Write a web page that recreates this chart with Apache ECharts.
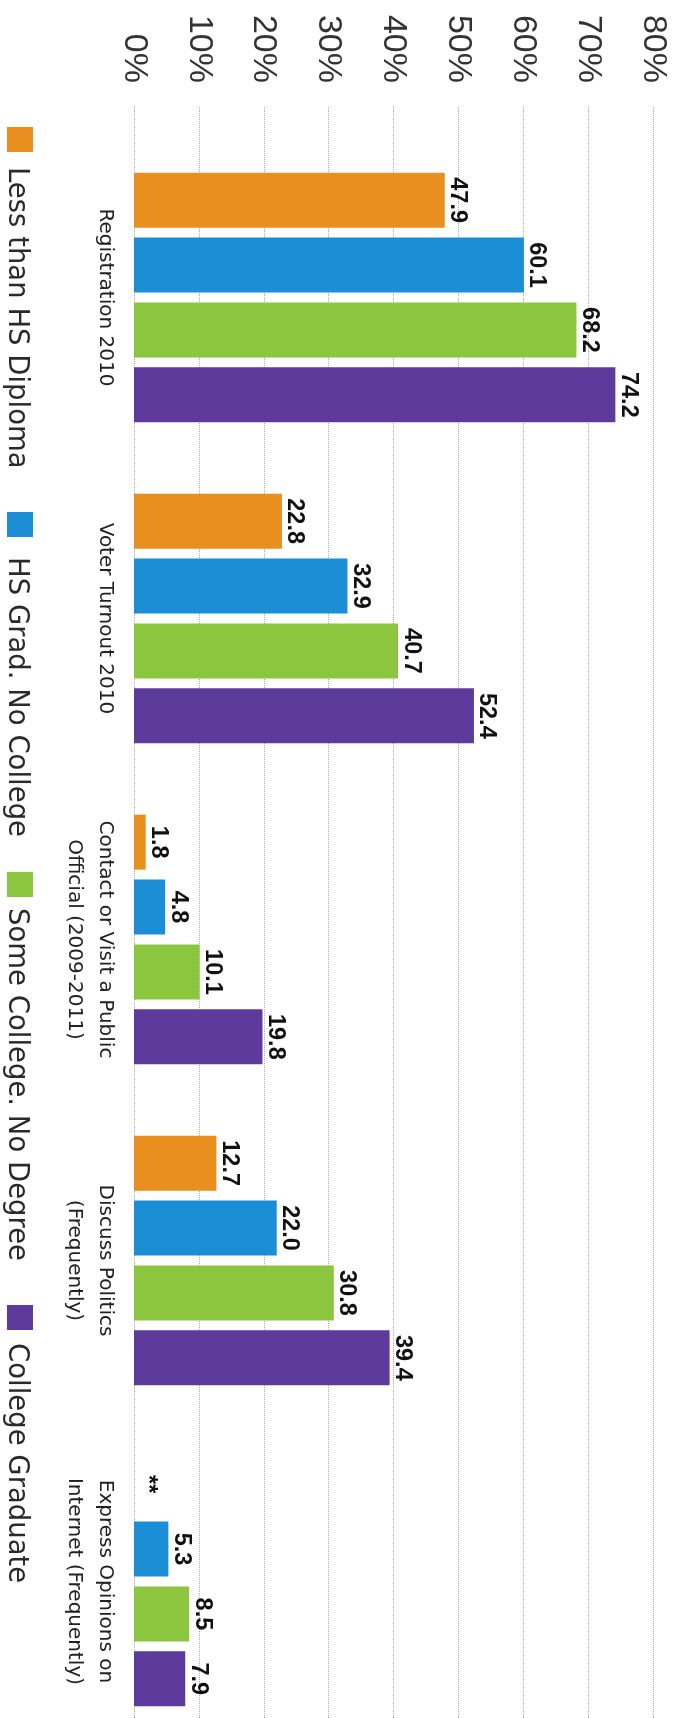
<!DOCTYPE html>
<html><head><meta charset="utf-8">
<script src="https://cdn.jsdelivr.net/npm/echarts@6/dist/echarts.min.js"></script>
<style>html,body{margin:0;padding:0;background:#fff}#c{width:686px;height:1718px}</style>
</head><body><div id="c"></div>
<script>
// ---- data ----
const categories = [
  'Registration 2010',
  'Voter Turnout 2010',
  'Contact or Visit a Public\nOfficial (2009-2011)',
  'Discuss Politics\n(Frequently)',
  'Express Opinions on\nInternet (Frequently)'
];
const seriesNames = ['Less than HS Diploma', 'HS Grad. No College', 'Some College. No Degree', 'College Graduate'];
const lessThanHS  = [47.9, 22.8, 1.8, 12.7, null];
const hsGrad      = [60.1, 32.9, 4.8, 22.0, 5.3];
const someCollege = [68.2, 40.7, 10.1, 30.8, 8.5];
const collegeGrad = [74.2, 52.4, 19.8, 39.4, 7.9];
const missingMark = '**';
const axisMin = 0, axisMax = 80, axisStep = 10;
const tickSuffix = '%';

// ---- style ----
const colors = ['#E98F1F', '#1B8ED6', '#8CC63F', '#5C3B9D'];
const seriesData = [lessThanHS, hsGrad, someCollege, collegeGrad];
const ARIAL = '"Liberation Sans", Arial, Helvetica, sans-serif';
const WIDE = '"DejaVu Sans", Verdana, sans-serif';

const chart = echarts.init(document.getElementById('c'), null, {renderer: 'canvas'});

const series = seriesData.map((arr, i) => ({
  type: 'bar',
  name: seriesNames[i],
  xAxisIndex: 0, yAxisIndex: 0,
  barWidth: 55,
  barGap: '18%',
  itemStyle: {color: colors[i]},
  label: {
    show: true, position: 'right', rotate: -90, distance: 1,
    align: 'center', verticalAlign: 'bottom',
    fontFamily: ARIAL, fontWeight: 'bold', fontSize: 23.5, color: '#111',
    formatter: p => (p.data && p.data.missing) ? missingMark : Number(p.value).toFixed(1)
  },
  data: arr.map(v => v == null ? {value: 0, missing: true} : v)
}));

const legendSquares = [127, 512, 872, 1305];
const legendTexts = [167, 557, 908, 1343];
const graphic = [];
seriesNames.forEach((n, i) => {
  graphic.push({type: 'rect', left: 7, top: legendSquares[i], shape: {width: 26, height: 25}, style: {fill: colors[i]}});
  graphic.push({type: 'text', x: 16.5, y: legendTexts[i], rotation: -Math.PI / 2,
    style: {text: n, fill: '#2a2a2a', font: '27.5px ' + WIDE, textAlign: 'left', textVerticalAlign: 'middle'}});
});

const splitStyle = {show: true, lineStyle: {type: 'dotted', color: '#a8a8a8', width: 1}};

chart.setOption({
  animation: false,
  backgroundColor: '#fff',
  grid: [
    {left: 134, right: 33, top: 137, height: 1605, outerBoundsMode: 'none', containLabel: false},
    {left: 134, right: 33, top: 107, height: 30, outerBoundsMode: 'none', containLabel: false}
  ],
  xAxis: [
    {type: 'value', gridIndex: 0, position: 'top', min: axisMin, max: axisMax, interval: axisStep,
     axisLine: {show: false}, axisTick: {show: false}, axisLabel: {show: false}, splitLine: splitStyle},
    {type: 'value', gridIndex: 1, position: 'top', min: axisMin, max: axisMax, interval: axisStep,
     axisLine: {show: false}, axisTick: {show: false},
     axisLabel: {show: true, rotate: -90, margin: 24, formatter: '{value}' + tickSuffix,
       fontFamily: ARIAL, fontSize: 34, color: '#333'},
     splitLine: splitStyle}
  ],
  yAxis: [
    {type: 'category', gridIndex: 0, data: categories, inverse: true,
     axisLine: {show: false}, axisTick: {show: false}, splitLine: {show: false},
     axisLabel: {show: true, rotate: -90, margin: 13, lineHeight: 31,
       fontFamily: WIDE, fontSize: 20, color: '#222'}},
    {type: 'value', gridIndex: 1, show: false, min: 0, max: 1}
  ],
  graphic: graphic,
  series: series
});
</script>
</body></html>
